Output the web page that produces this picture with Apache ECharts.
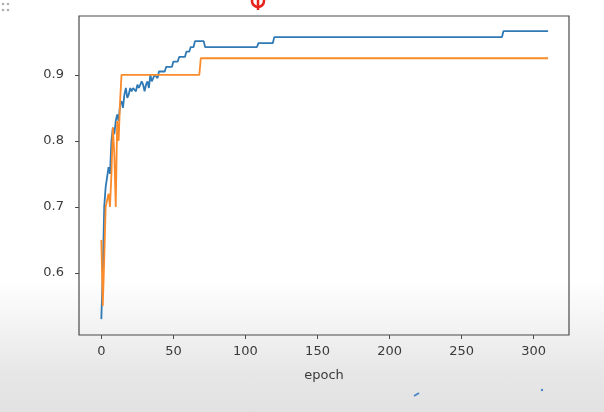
<!DOCTYPE html>
<html>
<head>
<meta charset="utf-8">
<script src="https://cdn.jsdelivr.net/npm/echarts@6/dist/echarts.min.js"></script>
<style>
  html, body { margin: 0; padding: 0; }
  body {
    width: 604px; height: 412px; overflow: hidden;
    background: linear-gradient(to bottom, #ffffff 0%, #ffffff 68%, #f3f3f3 79%, #e7e7e7 90%, #e2e2e2 100%);
  }
  #chart { width: 604px; height: 412px; }
</style>
</head>
<body>
<div id="chart"></div>
<script>
// Training curves (epoch, accuracy)
const blueEpochs = [0,1,2,3,4,5,6,7,8,9,10,11,12,13,14,15,16,17,18,19,20,21,22,23,24,25,26,27,28,29,30,31,32,33,34,35,36,37,38,39,40,44,45,49,50,53,54,58,59,61,62,64,65,71,72,108,109,119,120,278,279,310];
const blueValues = [0.53,0.60,0.70,0.73,0.73,0.76,0.75,0.80,0.82,0.81,0.83,0.84,0.83,0.855,0.86,0.85,0.87,0.88,0.865,0.87,0.88,0.875,0.88,0.88,0.875,0.885,0.88,0.88,0.89,0.885,0.875,0.885,0.89,0.88,0.90,0.89,0.895,0.90,0.90,0.895,0.905,0.905,0.912,0.912,0.92,0.92,0.927,0.927,0.935,0.935,0.942,0.942,0.951,0.951,0.942,0.942,0.948,0.948,0.957,0.957,0.966,0.966];

const orangeEpochs = [0,1,2,3,4,5,6,7,8,9,10,11,12,13,14,68,69,310];
const orangeValues = [0.65,0.55,0.62,0.70,0.70,0.72,0.70,0.75,0.82,0.78,0.70,0.83,0.80,0.86,0.90,0.90,0.925,0.925];

const xTicks = [0,50,100,150,200,250,300];
const yTicks = [0.6,0.7,0.8,0.9];
const xLabel = 'epoch';

const pairs = (xs, ys) => xs.map((x, i) => [x, ys[i]]);

const chart = echarts.init(document.getElementById('chart'), null, { renderer: 'canvas' });
chart.setOption({
  backgroundColor: 'transparent',
  animation: false,
  grid: {
    left: 79, top: 16, right: 35, bottom: 77,
    show: true, borderColor: '#4a4a4a', borderWidth: 1.2, backgroundColor: 'transparent'
  },
  xAxis: {
    type: 'value', min: -15.5, max: 324.5,
    name: xLabel, nameLocation: 'middle', nameGap: 34,
    nameTextStyle: { color: '#3a3a3a', fontSize: 13, fontFamily: 'DejaVu Sans' },
    axisLine: { show: false, onZero: false },
    splitLine: { show: false },
    axisTick: { show: true, customValues: xTicks, length: 4, lineStyle: { color: '#4a4a4a', width: 1 } },
    axisLabel: { customValues: xTicks, margin: 10, color: '#3a3a3a', fontSize: 13, fontFamily: 'DejaVu Sans' }
  },
  yAxis: {
    type: 'value', min: 0.506, max: 0.989,
    axisLine: { show: false, onZero: false },
    splitLine: { show: false },
    axisTick: { show: true, customValues: yTicks, length: 4, lineStyle: { color: '#4a4a4a', width: 1 } },
    axisLabel: { customValues: yTicks, margin: 15, color: '#3a3a3a', fontSize: 13, fontFamily: 'DejaVu Sans',
      formatter: v => v.toFixed(1) }
  },
  series: [
    { type: 'line', data: pairs(blueEpochs, blueValues), showSymbol: false, symbol: 'none',
      lineStyle: { color: '#2f7ab5', width: 1.8 }, z: 2 },
    { type: 'line', data: pairs(orangeEpochs, orangeValues), showSymbol: false, symbol: 'none',
      lineStyle: { color: '#fb8a2a', width: 1.8 }, z: 3 }
  ],
  graphic: [
    { type: 'circle', shape: { cx: 258, cy: 1, r: 6 }, style: { fill: 'none', stroke: '#e8231c', lineWidth: 2.5 } },
    { type: 'line', shape: { x1: 258, y1: -4, x2: 258, y2: 10 }, style: { stroke: '#e8231c', lineWidth: 2.5 } },
    { type: 'circle', shape: { cx: 3, cy: 4, r: 1.3 }, style: { fill: '#b0b0b0' } },
    { type: 'circle', shape: { cx: 8, cy: 4, r: 1.3 }, style: { fill: '#b0b0b0' } },
    { type: 'circle', shape: { cx: 3, cy: 10, r: 1.3 }, style: { fill: '#b0b0b0' } },
    { type: 'circle', shape: { cx: 8, cy: 10, r: 1.3 }, style: { fill: '#b0b0b0' } },
    { type: 'line', shape: { x1: 414, y1: 396, x2: 419, y2: 393 }, style: { stroke: '#4a86c8', lineWidth: 2 } },
    { type: 'circle', shape: { cx: 542, cy: 390, r: 1.2 }, style: { fill: '#4a86c8' } }
  ]
});
</script>
</body>
</html>
